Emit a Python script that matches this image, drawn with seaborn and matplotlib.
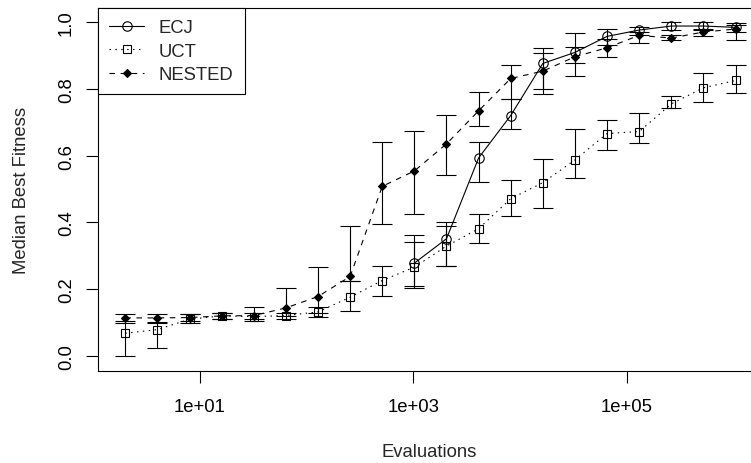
import matplotlib
matplotlib.use("Agg")
import matplotlib.pyplot as plt
import seaborn as sns

# ------------------------- DATOS -------------------------
evaluations = [2, 4, 8, 16, 32, 64, 128, 256, 512, 1024, 2048, 4096, 8192,
               16384, 32768, 65536, 131072, 262144, 524288, 1048576]

# ECJ solo tiene datos desde 1024 evaluaciones
ecj_evals = [1024, 2048, 4096, 8192, 16384, 32768, 65536, 131072, 262144, 524288, 1048576]
ecj_median = [0.278, 0.351, 0.593, 0.720, 0.876, 0.909, 0.957, 0.976, 0.988, 0.988, 0.984]
ecj_low = [0.204, 0.270, 0.520, 0.680, 0.800, 0.876, 0.930, 0.960, 0.975, 0.975, 0.970]
ecj_high = [0.363, 0.400, 0.641, 0.770, 0.923, 0.966, 0.980, 0.985, 1.000, 1.000, 0.996]

uct_median = [0.068, 0.079, 0.110, 0.120, 0.118, 0.121, 0.132, 0.176, 0.226, 0.266,
              0.329, 0.381, 0.471, 0.519, 0.587, 0.666, 0.672, 0.755, 0.803, 0.825]
uct_low = [0.000, 0.024, 0.100, 0.110, 0.105, 0.110, 0.118, 0.136, 0.181, 0.210,
           0.269, 0.338, 0.419, 0.444, 0.534, 0.616, 0.639, 0.743, 0.762, 0.788]
uct_high = [0.100, 0.100, 0.125, 0.130, 0.130, 0.130, 0.146, 0.226, 0.268, 0.341,
            0.390, 0.426, 0.528, 0.589, 0.679, 0.708, 0.729, 0.779, 0.846, 0.870]

nested_median = [0.114, 0.114, 0.115, 0.120, 0.121, 0.144, 0.178, 0.238, 0.508, 0.554,
                 0.635, 0.734, 0.831, 0.853, 0.896, 0.923, 0.960, 0.952, 0.970, 0.979]
nested_low = [0.105, 0.103, 0.105, 0.110, 0.110, 0.120, 0.130, 0.226, 0.396, 0.424,
              0.543, 0.690, 0.770, 0.784, 0.839, 0.896, 0.936, 0.946, 0.958, 0.946]
nested_high = [0.127, 0.127, 0.125, 0.130, 0.146, 0.203, 0.266, 0.389, 0.640, 0.673,
               0.723, 0.789, 0.870, 0.906, 0.925, 0.950, 0.970, 0.960, 0.980, 0.990]

x_ticks = [10, 1000, 100000]
x_tick_labels = ["1e+01", "1e+03", "1e+05"]
y_ticks = [0.0, 0.2, 0.4, 0.6, 0.8, 1.0]
y_tick_labels = ["0.0", "0.2", "0.4", "0.6", "0.8", "1.0"]

# ------------------------- ESTILO -------------------------
sns.set_style("ticks")
plt.rcParams['font.family'] = ['Liberation Sans', 'DejaVu Sans']
plt.rcParams['font.size'] = 13.3

fig = plt.figure(figsize=(7.51, 4.64), dpi=100)
ax = fig.add_axes([98 / 751, (464 - 372) / 464, (760 - 98) / 751, (372 - 9) / 464])

series = [
    ("ECJ", ecj_evals, ecj_median, ecj_low, ecj_high, "o", "-", "none", 6.8),
    ("UCT", evaluations, uct_median, uct_low, uct_high, "s", (0, (1.3, 4.0)), "none", 5.5),
    ("NESTED", evaluations, nested_median, nested_low, nested_high, "D", (0, (5.0, 5.0)), "black", 4.5),
]

for name, xs, med, lo, hi, mk, ls, fc, ms in series:
    yerr = [[m - l for m, l in zip(med, lo)], [h - m for m, h in zip(med, hi)]]
    ax.errorbar(xs, med, yerr=yerr, fmt="none", ecolor="black", elinewidth=0.8,
                capsize=7, capthick=0.8, zorder=2)
    sns.lineplot(x=xs, y=med, ax=ax, color="black", linewidth=0.8, linestyle=ls,
                 marker=mk, markersize=ms, markerfacecolor=fc, markeredgecolor="black",
                 markeredgewidth=0.8, label=name, zorder=3, errorbar=None)

# ------------------------- EJES -------------------------
ax.set_xscale("log")
ax.set_xlim(10 ** 0.045, 10 ** 6.25)
ax.set_ylim(-0.045, 1.042)
ax.set_xticks(x_ticks)
ax.set_xticklabels(x_tick_labels)
ax.minorticks_off()
ax.set_yticks(y_ticks)
ax.set_yticklabels(y_tick_labels, rotation=90, va="center")
ax.tick_params(axis="x", length=8.5, width=0.8, pad=11, colors="black")
ax.tick_params(axis="y", length=8.5, width=0.8, pad=8, colors="black")
for sp in ax.spines.values():
    sp.set_visible(True)
    sp.set_linewidth(0.8)
    sp.set_color("black")

ax.set_xlabel("Evaluations", labelpad=20)
ax.set_ylabel("Median Best Fitness", labelpad=20)

leg = ax.legend(loc="upper left", bbox_to_anchor=(0, 1), borderaxespad=0,
                frameon=True, fancybox=False, edgecolor="black", framealpha=1,
                handlelength=1.9, handletextpad=0.8, labelspacing=0.35, borderpad=0.6)
leg.get_frame().set_linewidth(0.8)

fig.savefig("out.png", dpi=100)
